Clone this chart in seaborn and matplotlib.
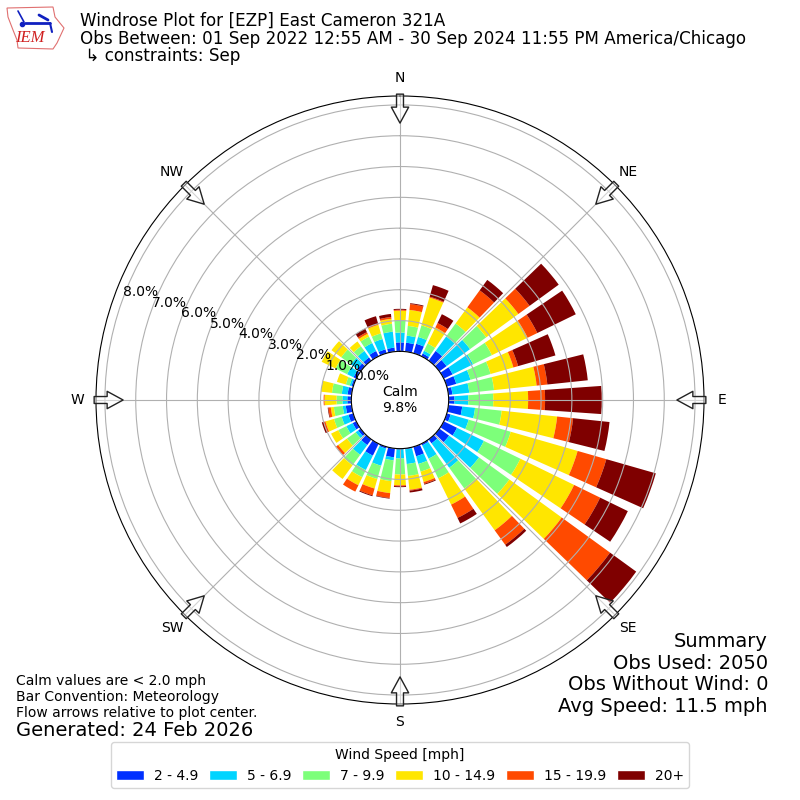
import numpy as np
import matplotlib
matplotlib.use("Agg")
import matplotlib.pyplot as plt
from matplotlib.patches import Patch, Polygon
import seaborn as sns

directions = list(range(0, 360, 10))
speed_labels = ["2 - 4.9", "5 - 6.9", "7 - 9.9", "10 - 14.9", "15 - 19.9", "20+"]
speed_colors = ["#0030ff", "#00d4ff", "#7dff7a", "#ffe600", "#ff4a00", "#7f0000"]

s_2_5 = [.29,.29,.32,.10,.39,.29,.32,.32,.13,.19,.45,.13,.48,.39,.16,.06,.32,.03,.03,.29,.06,.43,.23,.10,.13,.16,.19,.13,.13,.06,.10,.13,.13,.19,.13,.13]
s_5_7 = [.32,.23,.23,.10,.58,.94,.74,.48,.55,.45,.42,.61,.97,1.20,.98,.48,.26,.48,.29,.10,.58,.52,.39,.10,.23,.23,.10,.16,.19,.06,.23,.26,.26,.29,.35,.52]
s_7_10 = [.39,.32,.39,.26,.52,.65,.68,.68,.81,.81,.87,1.42,1.32,1.22,.83,.71,.26,.39,.52,.68,.45,.26,.42,.35,.29,.26,.29,.19,.32,.13,.42,.39,.19,.23,.19,.26]
s_10_15 = [.32,.52,.94,.58,.65,1.29,1.29,.77,1.39,1.13,1.81,2.26,1.94,2.10,1.68,.95,.35,.45,.35,.39,.32,.29,.55,.35,.26,.29,.10,.39,.36,.30,.50,.39,.19,.10,.29,.16]
s_15_20 = [.03,.19,.03,.16,.68,.45,.35,.16,.35,.55,.52,.97,.94,1.94,.58,.48,.06,.03,.03,.16,.23,.23,0,.09,0,.06,.08,.03,0,0,0,0,0,.06,.03,.06]
s_20 = [.03,.03,.39,.32,.42,1.17,1.39,1.26,1.32,1.84,1.19,1.67,1.00,1.05,.09,.20,.03,.06,.03,.02,.03,0,0,0,0,.06,.02,0,0,0,0,0,0,.13,.26,.10]
series = [s_2_5, s_5_7, s_7_10, s_10_15, s_15_20, s_20]

r_ticks = [0, 1, 2, 3, 4, 5, 6, 7, 8]
compass = ["N", "NE", "E", "SE", "S", "SW", "W", "NW"]
compass_deg = [0, 45, 90, 135, 180, 225, 270, 315]

sns.set_theme(style="white", context="notebook", rc={
    "font.family": ["DejaVu Sans"], "font.size": 10, "text.color": "black",
    "axes.labelcolor": "black", "xtick.color": "black", "ytick.color": "black",
    "xtick.labelsize": 10, "ytick.labelsize": 10, "legend.fontsize": 10,
    "legend.title_fontsize": 10, "axes.edgecolor": "black", "axes.linewidth": 0.8,
    "grid.color": "#b0b0b0", "grid.linewidth": 0.8,
})
palette = sns.color_palette(speed_colors)

fig = plt.figure(figsize=(8, 8), dpi=100)
ax = fig.add_axes([96/800, 96/800, 608/800, 608/800], projection="polar")
ax.set_theta_zero_location("N")
ax.set_theta_direction(-1)

theta = np.deg2rad(directions)
bottom = np.zeros(len(directions))
for vals, col in zip(series, palette):
    v = np.array(vals)
    ax.bar(theta, v, width=np.deg2rad(8), bottom=bottom, color=col, linewidth=0)
    bottom = bottom + v

ax.set_rorigin(-1.58)
ax.set_ylim(0, 8.29)
ax.set_yticks(r_ticks)
ax.set_yticklabels([f"{r:.1f}%" for r in r_ticks], fontsize=10)
ax.set_rlabel_position(290)
ax.set_thetagrids(compass_deg, compass)
ax.tick_params(axis="x", pad=0.3)
ax.grid(True, color="#b0b0b0", linewidth=0.8)
ax.set_axisbelow(False)
for spine in ax.spines.values():
    spine.set_zorder(4)

for d in compass_deg:
    ax.annotate("", xy=(np.deg2rad(d), 7.41), xytext=(np.deg2rad(d), 8.35),
                annotation_clip=False, zorder=6,
                arrowprops=dict(width=5, headwidth=12.5, headlength=11.5, shrink=0,
                                facecolor=(1, 1, 1, 0.45), edgecolor="#222222", linewidth=1))

ax.text(0.5, 0.5, "Calm\n9.8%", transform=ax.transAxes, ha="center", va="center", fontsize=10, zorder=7)

fig.text(80/800, 1-12/800, "Windrose Plot for [EZP] East Cameron 321A\n"
         "Obs Between: 01 Sep 2022 12:55 AM - 30 Sep 2024 11:55 PM America/Chicago\n"
         " \u21b3 constraints: Sep", ha="left", va="top", fontsize=12.02, linespacing=0.97)
fig.text(16/800, 1-674/800, "Calm values are < 2.0 mph\nBar Convention: Meteorology\nFlow arrows relative to plot center.",
         ha="left", va="top", fontsize=10, linespacing=1.17)
fig.text(16/800, 1-730/800, "Generated: 24 Feb 2026", ha="left", va="center", fontsize=14)
fig.text(768/800, 1-632/800, "Summary\nObs Used: 2050\nObs Without Wind: 0\nAvg Speed: 11.5 mph",
         ha="right", va="top", fontsize=14, linespacing=1.17)

handles = [Patch(facecolor=c, label=l) for c, l in zip(palette, speed_labels)]
fig.legend(handles=handles, title="Wind Speed [mph]", ncol=6, loc="lower center",
           bbox_to_anchor=(0.5, 0.006), frameon=True, framealpha=0.8, edgecolor="0.8", fancybox=True,
           columnspacing=0.8, handletextpad=0.7)

logo = fig.add_axes([0, 1-60/800, 120/800, 60/800])
logo.set_xlim(0, 120); logo.set_ylim(60, 0); logo.axis("off")
logo.add_patch(Polygon([(7,8),(53,7),(55,17),(64,28),(57,43),(53,49),(18,48),(17,40),(13,30),(8,17)],
                       closed=True, fill=False, edgecolor="#e07070", linewidth=0.8))
logo.plot([25,50],[23,23], color="#1020c0", lw=2)
logo.plot([18,24],[11,22], color="#1020c0", lw=1.2)
logo.plot([39,48],[15,20], color="#1020c0", lw=2)
logo.plot([50,52],[23,32], color="#1020c0", lw=1.5)
logo.plot([22],[24], marker="o", ms=3, color="#1020c0")
logo.text(30, 38, "IEM", color="#d02020", family="Liberation Serif", style="italic", fontsize=12, ha="center", va="center")

fig.savefig("out.png", dpi=100)
